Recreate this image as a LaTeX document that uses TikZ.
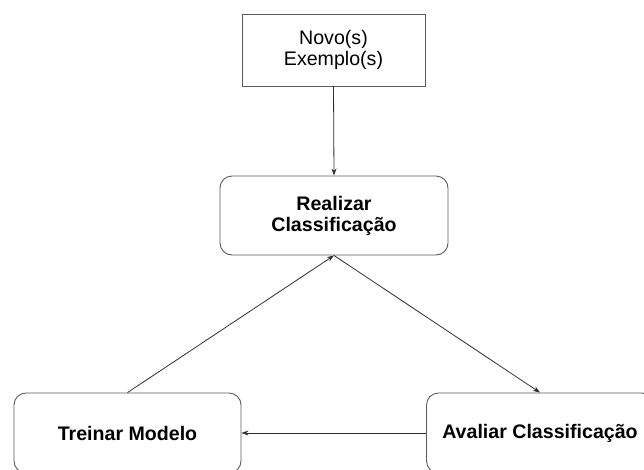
\documentclass[tikz,border=0pt]{standalone}
\usepackage{fontspec}
\setmainfont{Liberation Sans}
\usetikzlibrary{arrows.meta}
\definecolor{boxline}{HTML}{5A5A5A}
\definecolor{arrowline}{HTML}{2E2E2E}
\tikzset{
  plainbox/.style={draw=boxline, line width=0.9pt, rectangle, align=center,
    font=\fontsize{19.6}{21}\selectfont, inner sep=0pt},
  roundbox/.style={plainbox, rounded corners=12pt,
    font=\fontsize{19.6}{21}\selectfont\bfseries},
  flow/.style={draw=arrowline, line width=0.8pt,
    -{Stealth[length=7pt,width=5pt]}},
}
\begin{document}
\begin{tikzpicture}[x=1pt,y=-1pt]
  \useasboundingbox (0,0) rectangle (644,469);
  \node[plainbox, minimum width=183pt, minimum height=72pt] (novo) at (333.5,50) {Novo(s)\\Exemplo(s)};
  \node[roundbox, minimum width=228pt, minimum height=79pt] (realizar) at (334,215.5) {Realizar\\Classificação};
  \node[roundbox, minimum width=227pt, minimum height=80pt] (treinar) at (127.5,433) {Treinar Modelo};
  \node[roundbox, minimum width=227pt, minimum height=80pt] (avaliar) at (540,433) {Avaliar Classificação};

  \draw[flow] (novo.south) -- (realizar.north);
  \draw[flow] (realizar.south) -- (avaliar.north);
  \draw[flow] (treinar.north) -- (realizar.south);
  \draw[flow] (avaliar.west) -- (treinar.east);
\end{tikzpicture}
\end{document}
